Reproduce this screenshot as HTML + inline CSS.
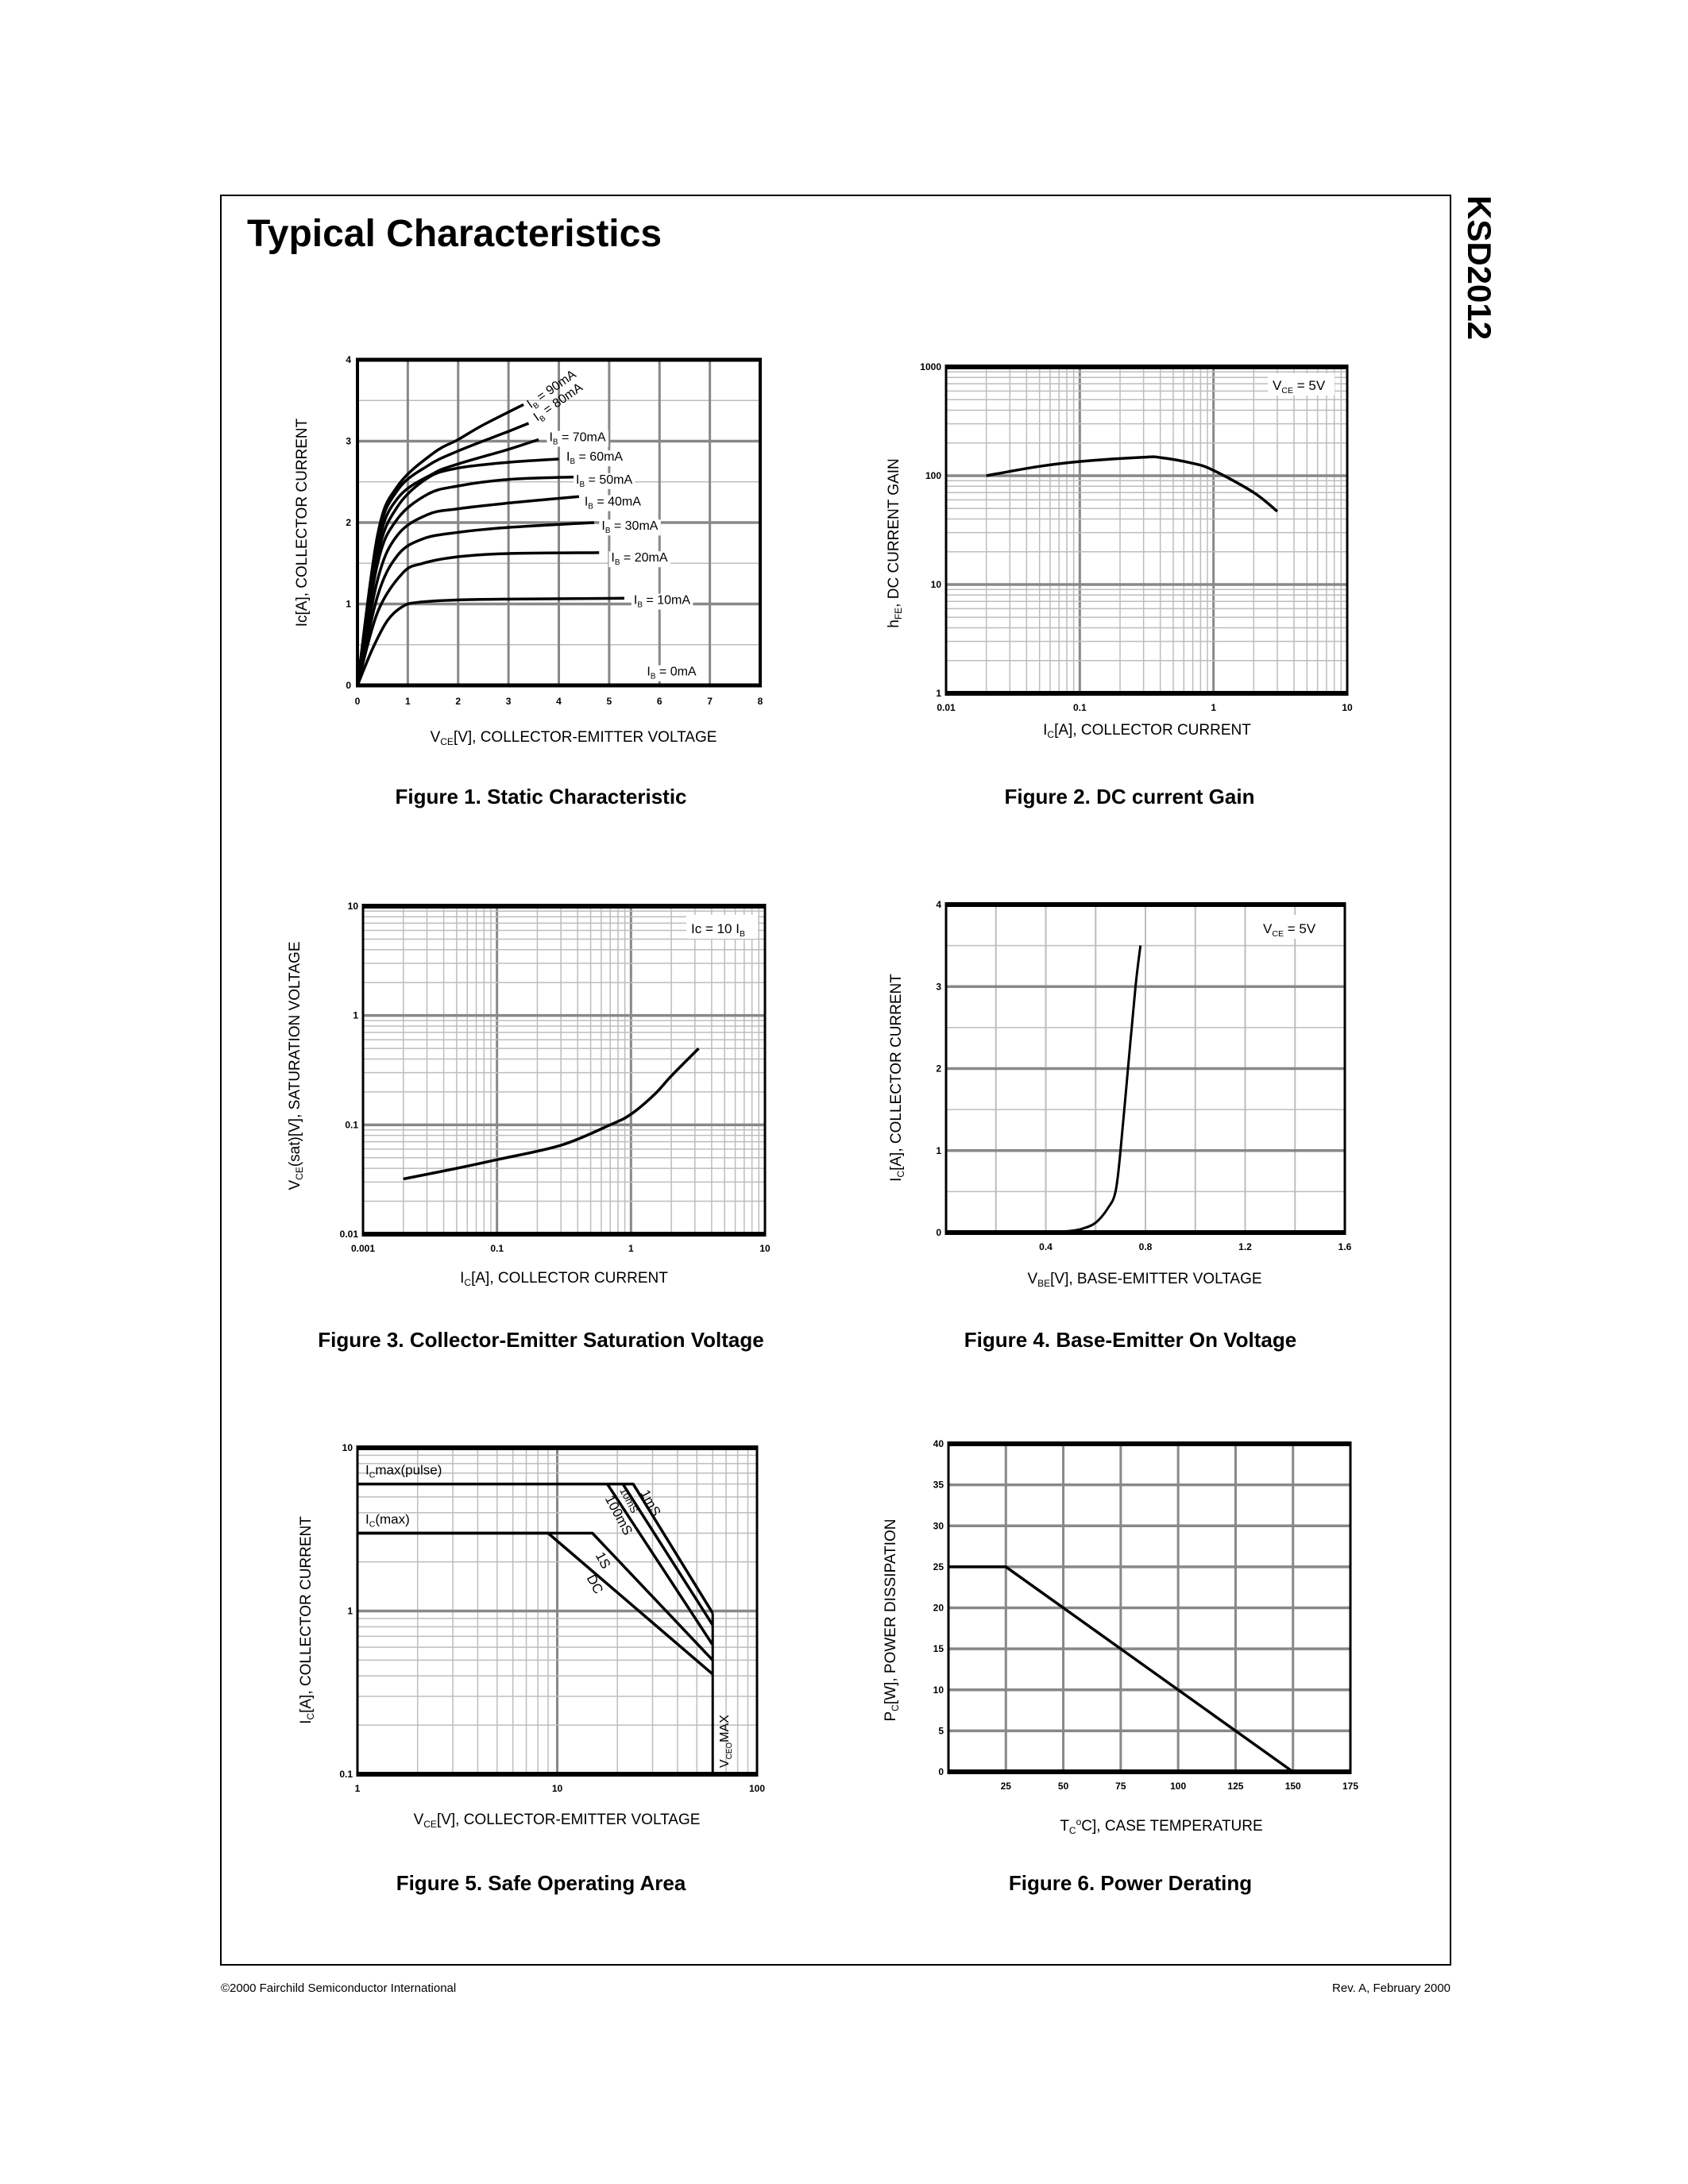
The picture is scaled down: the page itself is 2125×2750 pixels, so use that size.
<!DOCTYPE html>
<html><head><meta charset="utf-8">
<style>
html,body{margin:0;padding:0;background:#fff;}
svg{display:block;font-family:"Liberation Sans",Arial,sans-serif;}
</style></head>
<body>
<svg id="page" xmlns="http://www.w3.org/2000/svg" width="2125" height="2750" viewBox="0 0 2125 2750">
<rect x="0" y="0" width="2125" height="2750" fill="#fff"/>
<rect x="278" y="246" width="1548" height="2228" fill="none" stroke="#000" stroke-width="2"/>
<text x="311" y="310" font-size="48" font-weight="bold">Typical Characteristics</text>
<text transform="translate(1848,246) rotate(90)" font-size="42" font-weight="bold">KSD2012</text>
<text x="278" y="2508" font-size="15">©2000 Fairchild Semiconductor International</text>
<text x="1826" y="2508" font-size="15" text-anchor="end">Rev. A, February 2000</text>

<text x="681" y="1012" font-size="26" font-weight="bold" text-anchor="middle">Figure 1. Static Characteristic</text>
<text x="1422" y="1012" font-size="26" font-weight="bold" text-anchor="middle">Figure 2. DC current Gain</text>
<text x="681" y="1696" font-size="26" font-weight="bold" text-anchor="middle">Figure 3. Collector-Emitter Saturation Voltage</text>
<text x="1423" y="1696" font-size="26" font-weight="bold" text-anchor="middle">Figure 4. Base-Emitter On Voltage</text>
<text x="681" y="2380" font-size="26" font-weight="bold" text-anchor="middle">Figure 5. Safe Operating Area</text>
<text x="1423" y="2380" font-size="26" font-weight="bold" text-anchor="middle">Figure 6. Power Derating</text>

<text x="722" y="934" font-size="19" text-anchor="middle">V<tspan font-size="12" dy="4">CE</tspan><tspan dy="-4">[V], COLLECTOR-EMITTER VOLTAGE</tspan></text>
<text transform="translate(386,658) rotate(-90)" font-size="19" text-anchor="middle">Ic[A], COLLECTOR CURRENT</text>
<text x="1444" y="925" font-size="19" text-anchor="middle">I<tspan font-size="12" dy="4">C</tspan><tspan dy="-4">[A], COLLECTOR CURRENT</tspan></text>
<text transform="translate(1131,684) rotate(-90)" font-size="19" text-anchor="middle">h<tspan font-size="12" dy="4">FE</tspan><tspan dy="-4">, DC CURRENT GAIN</tspan></text>
<text x="710" y="1615" font-size="19" text-anchor="middle">I<tspan font-size="12" dy="4">C</tspan><tspan dy="-4">[A], COLLECTOR CURRENT</tspan></text>
<text transform="translate(377,1342) rotate(-90)" font-size="19" text-anchor="middle">V<tspan font-size="12" dy="4">CE</tspan><tspan dy="-4">(sat)[V], SATURATION VOLTAGE</tspan></text>
<text x="1441" y="1616" font-size="19" text-anchor="middle">V<tspan font-size="12" dy="4">BE</tspan><tspan dy="-4">[V], BASE-EMITTER VOLTAGE</tspan></text>
<text transform="translate(1134,1357) rotate(-90)" font-size="19" text-anchor="middle">I<tspan font-size="12" dy="4">C</tspan><tspan dy="-4">[A], COLLECTOR CURRENT</tspan></text>
<text x="701" y="2297" font-size="19" text-anchor="middle">V<tspan font-size="12" dy="4">CE</tspan><tspan dy="-4">[V], COLLECTOR-EMITTER VOLTAGE</tspan></text>
<text transform="translate(391,2040) rotate(-90)" font-size="19" text-anchor="middle">I<tspan font-size="12" dy="4">C</tspan><tspan dy="-4">[A], COLLECTOR CURRENT</tspan></text>
<text x="1462" y="2305" font-size="19" text-anchor="middle">T<tspan font-size="12" dy="4">C</tspan><tspan dy="-11" font-size="12">o</tspan><tspan dy="7">C], CASE TEMPERATURE</tspan></text>
<text transform="translate(1127,2040) rotate(-90)" font-size="19" text-anchor="middle">P<tspan font-size="12" dy="4">C</tspan><tspan dy="-4">[W], POWER DISSIPATION</tspan></text>
<g id="charts"></g>
</svg>
<script>
// ---------- data ----------
const fig1Series = ['10mA','20mA','30mA','40mA','50mA','60mA','70mA','80mA','90mA'];
const fig1Vce10 = [0,0.3,0.6,0.9,1.2,2,3,5.3];
const fig1Ic10  = [0,0.45,0.8,0.97,1.02,1.05,1.06,1.07];
const fig1Vce20 = [0,0.4,0.9,1.3,2,3,4.8];
const fig1Ic20  = [0,0.9,1.38,1.5,1.58,1.62,1.63];
const fig1Vce30 = [0,0.4,0.8,1.3,2,3,4.7];
const fig1Ic30  = [0,1.1,1.6,1.8,1.88,1.94,2.0];
const fig1Vce40 = [0,0.4,0.8,1.4,2,3,4.4];
const fig1Ic40  = [0,1.3,1.85,2.1,2.17,2.24,2.32];
const fig1Vce50 = [0,0.4,0.8,1.4,2,3,4.3];
const fig1Ic50  = [0,1.5,2.05,2.35,2.45,2.53,2.56];
const fig1Vce60 = [0,0.4,0.8,1.4,2,3,4.0];
const fig1Ic60  = [0,1.6,2.2,2.55,2.67,2.74,2.78];
const fig1Vce70 = [0,0.4,0.8,1.5,2,3,3.6];
const fig1Ic70  = [0,1.7,2.3,2.6,2.72,2.9,3.02];
const fig1Vce80 = [0,0.4,0.8,1.4,2,3,3.4];
const fig1Ic80  = [0,1.8,2.4,2.7,2.88,3.12,3.22];
const fig1Vce90 = [0,0.4,0.8,1.5,2,2.5,3.3];
const fig1Ic90  = [0,1.85,2.45,2.85,3.02,3.2,3.45];
const fig1XTicks = [0,1,2,3,4,5,6,7,8];
const fig1YTicks = [0,1,2,3,4];

const fig2Ic  = [0.02,0.05,0.1,0.3,0.4,0.7,1,2,3];
const fig2Hfe = [100,122,135,148,147,130,112,70,47];
const fig2XTickLabels = ['0.01','0.1','1','10'];
const fig2YTickLabels = ['1','10','100','1000'];

const fig3Ic   = [0.02,0.05,0.1,0.3,0.7,1,1.5,2,3.2];
const fig3Vsat = [0.032,0.04,0.048,0.065,0.1,0.125,0.19,0.28,0.5];
const fig3XTickLabels = ['0.001','0.1','1','10'];
const fig3YTickLabels = ['0.01','0.1','1','10'];

const fig4Vbe = [0.4,0.5,0.55,0.6,0.65,0.68,0.7,0.73,0.76,0.78];
const fig4Ic  = [0,0.02,0.05,0.12,0.3,0.5,1.0,2.0,3.0,3.5];
const fig4XTicks = [0.4,0.8,1.2,1.6];
const fig4YTicks = [0,1,2,3,4];

const fig5Names = ['DC','1S','100mS','10mS','1mS'];
const fig5VceDC = [1,9,60];    const fig5IcDC = [3,3,0.41];
const fig5Vce1S = [1,15,60];   const fig5Ic1S = [3,3,0.5];
const fig5Vce100m = [17.8,60]; const fig5Ic100m = [6,0.62];
const fig5Vce10m = [21.3,60];  const fig5Ic10m = [6,0.82];
const fig5Vce1m = [1,24,60];   const fig5Ic1m = [6,6,0.97];
const fig5VceoMax = 60;
const fig5XTickLabels = ['1','10','100'];
const fig5YTickLabels = ['0.1','1','10'];

const fig6Tc = [0,25,150];
const fig6Pc = [25,25,0];
const fig6XTicks = [25,50,75,100,125,150,175];
const fig6YTicks = [0,5,10,15,20,25,30,35,40];

// ---------- helpers ----------
const NS = 'http://www.w3.org/2000/svg';
const root = document.getElementById('charts');
function el(tag, attrs, parent) {
  const e = document.createElementNS(NS, tag);
  for (const k in attrs) e.setAttribute(k, attrs[k]);
  (parent || root).appendChild(e);
  return e;
}
function linScale(d0,d1,r0,r1){return v=>r0+(v-d0)/(d1-d0)*(r1-r0);}
function logScale(d0,d1,r0,r1){const a=Math.log10(d0),b=Math.log10(d1);return v=>r0+(Math.log10(v)-a)/(b-a)*(r1-r0);}
const MAJ = '#888', MIN = '#bdbdbd';
function line(g,x1,y1,x2,y2,stroke,w,name){
  const l = el('line',{x1:x1,y1:y1,x2:x2,y2:y2,stroke:stroke,'stroke-width':w},g);
  
  
  return l;
}
function tick(g,x,y,txt,anchor,name){
  const t = el('text',{x:x,y:y,'font-size':12,'font-weight':'bold','text-anchor':anchor},g);
  t.textContent = txt;
  
  
  return t;
}
function curve(g,xs,ys,sx,sy,w,name,smooth){
  const pts = xs.map((x,i)=>[sx(x),sy(ys[i])]);
  let d = 'M'+pts[0][0].toFixed(1)+','+pts[0][1].toFixed(1);
  for(let i=1;i<pts.length;i++){
    if(smooth){
      const p0=pts[Math.max(0,i-2)], p1=pts[i-1], p2=pts[i], p3=pts[Math.min(pts.length-1,i+1)];
      const c1=[p1[0]+(p2[0]-p0[0])/6, p1[1]+(p2[1]-p0[1])/6];
      const c2=[p2[0]-(p3[0]-p1[0])/6, p2[1]-(p3[1]-p1[1])/6];
      d+=' C'+c1[0].toFixed(1)+','+c1[1].toFixed(1)+' '+c2[0].toFixed(1)+','+c2[1].toFixed(1)+' '+p2[0].toFixed(1)+','+p2[1].toFixed(1);
    } else d+=' L'+pts[i][0].toFixed(1)+','+pts[i][1].toFixed(1);
  }
  const p = el('path',{d:d,fill:'none',stroke:'#000','stroke-width':w,'stroke-linejoin':'round','stroke-linecap':'butt'},g);
  
  
  return p;
}
function frame(g,P,side,tb){
  line(g,P.x0,P.y0,P.x1,P.y0,'#000',tb,'frame-top');
  line(g,P.x0,P.y1,P.x1,P.y1,'#000',tb,'frame-bottom');
  line(g,P.x0,P.y0-tb/2,P.x0,P.y1+tb/2,'#000',side,'frame-left');
  line(g,P.x1,P.y0-tb/2,P.x1,P.y1+tb/2,'#000',side,'frame-right');
}
function group(name){
  const g = el('g',{},root);
  
  
  return g;
}
function logGridX(g,P,sx,d0,d1){
  for(let dec=d0; dec<d1; dec*=10){
    for(let m=2;m<=9;m++){const x=sx(dec*m);line(g,x,P.y0,x,P.y1,MIN,1.5,'minor-gridline-x');}
    if(dec>d0){const x=sx(dec);line(g,x,P.y0,x,P.y1,MAJ,3,'major-gridline-x');}
  }
}
function logGridY(g,P,sy,d0,d1){
  for(let dec=d0; dec<d1; dec*=10){
    for(let m=2;m<=9;m++){const y=sy(dec*m);line(g,P.x0,y,P.x1,y,MIN,1.5,'minor-gridline-y');}
    if(dec>d0){const y=sy(dec);line(g,P.x0,y,P.x1,y,MAJ,3.5,'major-gridline-y');}
  }
}
function label(g,x,y,parts,size,name,bg,rot){
  const t = el('text',{x:x,y:y,'font-size':size},g);
  if(rot) t.setAttribute('transform','rotate('+rot+' '+x+' '+y+')');
  parts.forEach(p=>{
    const s = el('tspan',{},t);
    if(p[1]){s.setAttribute('font-size',size*0.62);s.setAttribute('dy',4);} else {s.setAttribute('dy',t.childNodes.length>1?-4:0);}
    s.textContent = p[0];
  });
  
  
  if(bg){ const b=t.getBBox(); const r=el('rect',{x:b.x-3,y:b.y,width:b.width+6,height:b.height,fill:'#fff'},g); g.insertBefore(r,t);
    
     }
  return t;
}
function boxLabel(g,x,y,w,h,parts,name){
  const r = el('rect',{x:x,y:y,width:w,height:h,fill:'#fff'},g);
  
  
  label(g,x+6,y+h-7,parts,17,name,false);
}

// ---------- Figure 1 ----------
(function(){
  const P={x0:450,x1:957,y0:453,y1:863};
  const g=group('figure1-static-characteristic');
  const sx=linScale(0,8,P.x0,P.x1), sy=linScale(0,4,P.y1,P.y0);
  for(let v=0.5; v<4; v+=1) line(g,P.x0,sy(v),P.x1,sy(v),MIN,1.5,'minor-gridline-y');
  fig1YTicks.forEach(v=>{ if(v>0&&v<4) line(g,P.x0,sy(v),P.x1,sy(v),MAJ,3.5,'major-gridline-y'); });
  fig1XTicks.forEach(v=>{ if(v>0&&v<8) line(g,sx(v),P.y0,sx(v),P.y1,MAJ,3,'major-gridline-x'); });
  const xs=[fig1Vce10,fig1Vce20,fig1Vce30,fig1Vce40,fig1Vce50,fig1Vce60,fig1Vce70,fig1Vce80,fig1Vce90];
  const ys=[fig1Ic10,fig1Ic20,fig1Ic30,fig1Ic40,fig1Ic50,fig1Ic60,fig1Ic70,fig1Ic80,fig1Ic90];
  xs.forEach((x,i)=>curve(g,x,ys[i],sx,sy,3.5,'curve-ib-'+fig1Series[i],true));
  const lab=[[5.49,1.0,'10mA'],[5.04,1.52,'20mA'],[4.85,1.91,'30mA'],[4.51,2.21,'40mA'],[4.34,2.48,'50mA'],[4.15,2.76,'60mA'],[3.81,3.0,'70mA'],[5.75,0.12,'0mA']];
  lab.forEach(l=>label(g,sx(l[0]),sy(l[1]),[['I'],['B',1],[' = '+l[2]]],16,'label-ib-'+l[2],true));
  label(g,sx(3.44),sy(3.4),[['I'],['B',1],[' = 90mA']],16,'label-ib-90mA',false,-35);
  label(g,sx(3.57),sy(3.24),[['I'],['B',1],[' = 80mA']],16,'label-ib-80mA',false,-35);
  frame(g,P,4,5);
  fig1XTicks.forEach(v=>tick(g,sx(v),P.y1+24,String(v),'middle','x-tick-label'));
  fig1YTicks.forEach(v=>tick(g,P.x0-8,sy(v)+4,String(v),'end','y-tick-label'));
})();

// ---------- Figure 2 ----------
(function(){
  const P={x0:1191,x1:1696,y0:462,y1:873};
  const g=group('figure2-dc-current-gain');
  const sx=logScale(0.01,10,P.x0,P.x1), sy=logScale(1,1000,P.y1,P.y0);
  logGridX(g,P,sx,0.01,10); logGridY(g,P,sy,1,1000);
  boxLabel(g,1596,470,84,28,[['V'],['CE',1],[' = 5V']],'vce-condition');
  curve(g,fig2Ic,fig2Hfe,sx,sy,3.5,'hfe-curve',true);
  frame(g,P,3,6);
  fig2XTickLabels.forEach(v=>tick(g,sx(parseFloat(v)),P.y1+22,v,'middle','x-tick-label'));
  fig2YTickLabels.forEach(v=>tick(g,P.x0-6,sy(parseFloat(v))+4,v,'end','y-tick-label'));
})();

// ---------- Figure 3 ----------
(function(){
  const P={x0:457,x1:963,y0:1141,y1:1554};
  const g=group('figure3-saturation-voltage');
  const sx=logScale(0.01,10,P.x0,P.x1), sy=logScale(0.01,10,P.y1,P.y0);
  logGridX(g,P,sx,0.01,10); logGridY(g,P,sy,0.01,10);
  boxLabel(g,864,1152,90,30,[['Ic = 10 I'],['B',1]],'ic-condition');
  curve(g,fig3Ic,fig3Vsat,sx,sy,3.5,'vcesat-curve',true);
  frame(g,P,3,6);
  const xpos=[0.01,0.1,1,10];
  fig3XTickLabels.forEach((v,i)=>tick(g,sx(xpos[i]),P.y1+22,v,'middle','x-tick-label'));
  fig3YTickLabels.forEach(v=>tick(g,P.x0-6,sy(parseFloat(v))+4,v,'end','y-tick-label'));
})();

// ---------- Figure 4 ----------
(function(){
  const P={x0:1191,x1:1693,y0:1139,y1:1552};
  const g=group('figure4-base-emitter-on-voltage');
  const sx=linScale(0,1.6,P.x0,P.x1), sy=linScale(0,4,P.y1,P.y0);
  for(let v=0.2; v<1.55; v+=0.2) line(g,sx(v),P.y0,sx(v),P.y1,MIN,2,'gridline-x');
  for(let v=0.5; v<4; v+=1) line(g,P.x0,sy(v),P.x1,sy(v),MIN,1.5,'minor-gridline-y');
  fig4YTicks.forEach(v=>{ if(v>0&&v<4) line(g,P.x0,sy(v),P.x1,sy(v),MAJ,3.5,'major-gridline-y'); });
  boxLabel(g,1584,1152,90,30,[['V'],['CE',1],[' = 5V']],'vce-condition');
  curve(g,fig4Vbe,fig4Ic,sx,sy,3,'ic-vbe-curve',true);
  frame(g,P,3,6);
  fig4XTicks.forEach(v=>tick(g,sx(v),P.y1+22,String(v),'middle','x-tick-label'));
  fig4YTicks.forEach(v=>tick(g,P.x0-6,sy(v)+4,String(v),'end','y-tick-label'));
})();

// ---------- Figure 5 ----------
(function(){
  const P={x0:450,x1:953,y0:1823,y1:2234};
  const g=group('figure5-safe-operating-area');
  const sx=logScale(1,100,P.x0,P.x1), sy=logScale(0.1,10,P.y1,P.y0);
  logGridX(g,P,sx,1,100); logGridY(g,P,sy,0.1,10);
  curve(g,fig5VceDC,fig5IcDC,sx,sy,3.5,'soa-dc');
  curve(g,fig5Vce1S,fig5Ic1S,sx,sy,3.5,'soa-1s');
  curve(g,fig5Vce100m,fig5Ic100m,sx,sy,3.5,'soa-100ms');
  curve(g,fig5Vce10m,fig5Ic10m,sx,sy,3.5,'soa-10ms');
  curve(g,fig5Vce1m,fig5Ic1m,sx,sy,3.5,'soa-1ms');
  line(g,sx(fig5VceoMax),sy(0.1),sx(fig5VceoMax),sy(0.97),'#000',3,'vceo-max-line');
  label(g,P.x0+10,sy(6)-12,[['I'],['C',1],['max(pulse)']],17,'icmax-pulse-label',false);
  label(g,P.x0+10,sy(3)-12,[['I'],['C',1],['(max)']],17,'icmax-label',false);
  label(g,sx(26),sy(5.3),[['1mS']],17,'label-1ms',false,62);
  label(g,sx(20.5),sy(5.5),[['10mS']],13,'label-10ms',false,62);
  label(g,sx(17.3),sy(4.9),[['100mS']],17,'label-100ms',false,62);
  label(g,sx(15.5),sy(2.2),[['1S']],17,'label-1s',false,62);
  label(g,sx(14),sy(1.6),[['DC']],17,'label-dc',false,62);
  label(g,sx(fig5VceoMax)+20,P.y1-8,[['V'],['CEO',1],['MAX']],16,'vceo-max-label',false,-90);
  frame(g,P,3,6);
  fig5XTickLabels.forEach(v=>tick(g,sx(parseFloat(v)),P.y1+22,v,'middle','x-tick-label'));
  fig5YTickLabels.forEach(v=>tick(g,P.x0-6,sy(parseFloat(v))+4,v,'end','y-tick-label'));
})();

// ---------- Figure 6 ----------
(function(){
  const P={x0:1194,x1:1700,y0:1818,y1:2231};
  const g=group('figure6-power-derating');
  const sx=linScale(0,175,P.x0,P.x1), sy=linScale(0,40,P.y1,P.y0);
  fig6XTicks.forEach(v=>{ if(v<175) line(g,sx(v),P.y0,sx(v),P.y1,MAJ,3,'gridline-x'); });
  fig6YTicks.forEach(v=>{ if(v>0&&v<40) line(g,P.x0,sy(v),P.x1,sy(v),MAJ,3.5,'gridline-y'); });
  curve(g,fig6Tc,fig6Pc,sx,sy,3.5,'derating-curve');
  frame(g,P,3,6);
  fig6XTicks.forEach(v=>tick(g,sx(v),P.y1+22,String(v),'middle','x-tick-label'));
  fig6YTicks.forEach(v=>tick(g,P.x0-6,sy(v)+4,String(v),'end','y-tick-label'));
})();
</script>
</body></html>
